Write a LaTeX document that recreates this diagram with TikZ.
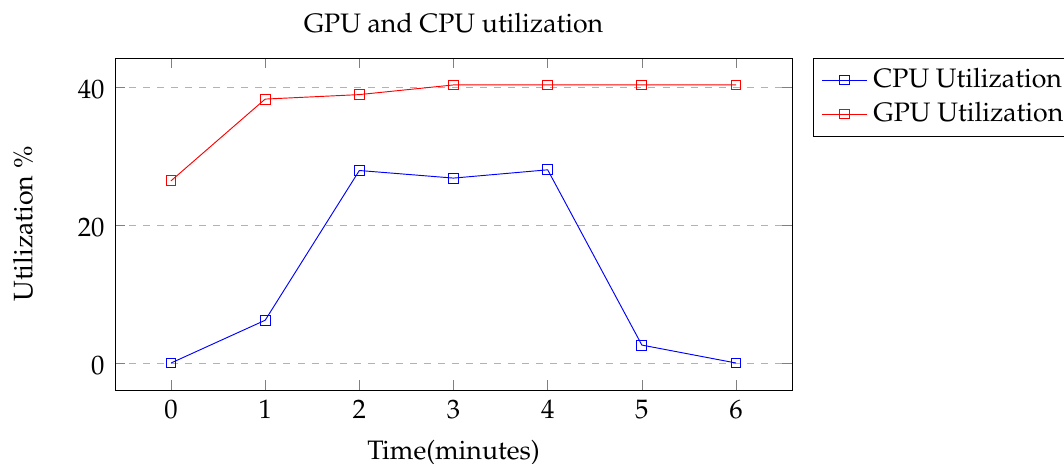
\documentclass[tikz,border=0pt]{standalone}
\usepackage[T1]{fontenc}
\usepackage{mathpazo}
% one unit = one pixel of the 1064 x 463 canvas, y pointing down
\tikzset{
  gridline/.style={black!30, thin, dashed},
  tickmark/.style={gray, very thin},
  frame/.style={black, line width=0.4pt},
  series/.style={line width=0.4pt},
  mk/.style={draw, rectangle, minimum size=4.2pt, inner sep=0pt, line width=0.4pt},
  lbl/.style={inner sep=0pt, font=\fontsize{11.4}{13.7}\selectfont},
}
\begin{document}
\begin{tikzpicture}[x=0.4274pt, y=-0.4274pt]
\useasboundingbox (0,0) rectangle (1064,463);

% horizontal grid
\foreach \v in {0,20,40}
  \draw[gridline] (115,{363-6.9*\v}) -- (792,{363-6.9*\v});

% tick marks on all four sides
\foreach \i in {0,...,6} {
  \draw[tickmark] ({171+94.17*\i},390) -- ({171+94.17*\i},380);
  \draw[tickmark] ({171+94.17*\i},58) -- ({171+94.17*\i},68);
}
\foreach \v in {0,20,40} {
  \draw[tickmark] (115,{363-6.9*\v}) -- (125,{363-6.9*\v});
  \draw[tickmark] (792,{363-6.9*\v}) -- (782,{363-6.9*\v});
}

% tick labels
\foreach \i in {0,...,6}
  \node[lbl, anchor=base] (xt\i) at ({171+94.17*\i},418) {\i};
\foreach \v in {0,20,40}
  \node[lbl, anchor=base east] (yt\v) at (105,{374.3-6.9*\v}) {\v};

% data points
\foreach \i/\v in {0/0,1/6.2,2/27.9,3/26.8,4/28,5/2.6,6/0}
  \coordinate (c\i) at ({171+94.17*\i},{363-6.9*\v});
\foreach \i/\v in {0/26.4,1/38.25,2/38.9,3/40.3,4/40.3,5/40.3,6/40.3}
  \coordinate (g\i) at ({171+94.17*\i},{363-6.9*\v});

% CPU series
\draw[series, blue] (c0) -- (c1) -- (c2) -- (c3) -- (c4) -- (c5) -- (c6);
\foreach \i in {0,...,6}
  \node[mk, blue] (cm\i) at (c\i) {};

% GPU series
\draw[series, red] (g0) -- (g1) -- (g2) -- (g3) -- (g4) -- (g5) -- (g6);
\foreach \i in {0,...,6}
  \node[mk, red] (gm\i) at (g\i) {};

% axis frame
\draw[frame] (115,58) rectangle (792,390);

% titles
\node[lbl, anchor=base] (title) at (453.5,32) {GPU and CPU utilization};
\node[lbl, anchor=base] (xlabel) at (453.5,459) {Time(minutes)};
\node[lbl, anchor=base, rotate=90] (ylabel) at (32.3,224) {Utilization \%};

% legend
\draw[frame] (813,58) rectangle (1090,136);
\coordinate (la1) at (822,80);  \coordinate (lb1) at (867,80);
\coordinate (la2) at (822,114); \coordinate (lb2) at (867,114);
\draw[series, blue] (la1) -- (lb1);
\node[mk, blue] (lm1) at (844.5,80) {};
\draw[series, red] (la2) -- (lb2);
\node[mk, red] (lm2) at (844.5,114) {};
\node[lbl, anchor=base west] (lt1) at (873,87.7) {CPU Utilization};
\node[lbl, anchor=base west] (lt2) at (873,121) {GPU Utilization};
\end{tikzpicture}
\end{document}
